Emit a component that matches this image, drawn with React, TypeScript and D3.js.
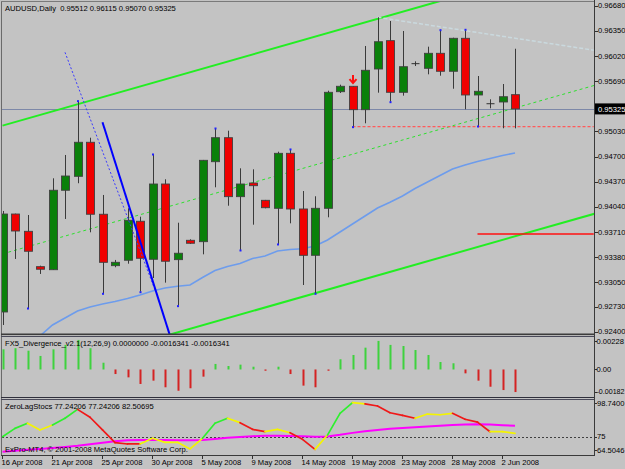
import React, { useEffect, useRef } from "react";
import * as d3 from "d3";

const W = 625;
const H = 469;

// ---- Data ----
const dateLabels = ["16 Apr 2008", "21 Apr 2008", "25 Apr 2008", "30 Apr 2008", "5 May 2008", "9 May 2008", "14 May 2008", "19 May 2008", "23 May 2008", "28 May 2008", "2 Jun 2008"];
const dateBarIdx = [0, 4, 8, 12, 16, 20, 24, 28, 32, 36, 40];

const opens = [0.92659, 0.93945, 0.93718, 0.93254, 0.93214, 0.94257, 0.94440, 0.94887, 0.93942, 0.93267, 0.93338, 0.93850, 0.93351, 0.94339, 0.93346, 0.93600, 0.93582, 0.94632, 0.94947, 0.94173, 0.94352, 0.94125, 0.94020, 0.94742, 0.94011, 0.93403, 0.94020, 0.95551, 0.95622, 0.95315, 0.95849, 0.96221, 0.95543, 0.95919, 0.95858, 0.96055, 0.95819, 0.96252, 0.95508, 0.95393, 0.95416, 0.95512];
const highs = [0.93985, 0.93950, 0.93932, 0.93267, 0.94414, 0.94720, 0.95420, 0.94947, 0.94195, 0.93342, 0.94020, 0.93910, 0.94720, 0.94401, 0.93831, 0.93613, 0.94655, 0.95061, 0.95039, 0.94545, 0.94532, 0.94130, 0.94763, 0.94786, 0.94247, 0.94178, 0.95564, 0.95643, 0.95625, 0.96151, 0.96528, 0.96479, 0.96348, 0.95950, 0.96142, 0.96352, 0.96260, 0.96357, 0.95757, 0.95451, 0.95652, 0.96115];
const lows = [0.92488, 0.93355, 0.92711, 0.93158, 0.93210, 0.93880, 0.94349, 0.93705, 0.92904, 0.93246, 0.93293, 0.92925, 0.93105, 0.93044, 0.92742, 0.93552, 0.93416, 0.94296, 0.94054, 0.93473, 0.93805, 0.94020, 0.93552, 0.93823, 0.93013, 0.92904, 0.93902, 0.95534, 0.95092, 0.95136, 0.95538, 0.95420, 0.95499, 0.95888, 0.95779, 0.95761, 0.95590, 0.95320, 0.95101, 0.95333, 0.95071, 0.95070];
const closes = [0.93945, 0.93722, 0.93456, 0.93220, 0.94257, 0.94444, 0.94887, 0.93942, 0.93311, 0.93311, 0.93863, 0.93364, 0.94339, 0.93325, 0.93430, 0.93561, 0.94650, 0.94947, 0.94173, 0.94339, 0.94317, 0.94028, 0.94742, 0.94011, 0.93403, 0.94020, 0.95543, 0.95622, 0.95315, 0.95832, 0.96207, 0.95543, 0.95879, 0.95919, 0.96055, 0.95819, 0.96252, 0.95508, 0.95556, 0.95393, 0.95485, 0.95325];

const maValues = [null, null, null, 0.92344, 0.92488, 0.92580, 0.92672, 0.92725, 0.92764, 0.92797, 0.92836, 0.92882, 0.92935, 0.92974, 0.92996, 0.93013, 0.93112, 0.93204, 0.93256, 0.93296, 0.93361, 0.93394, 0.93460, 0.93479, 0.93490, 0.93525, 0.93604, 0.93709, 0.93814, 0.93919, 0.94024, 0.94099, 0.94182, 0.94280, 0.94366, 0.94451, 0.94536, 0.94589, 0.94635, 0.94674, 0.94713, 0.94746];

const priceTicks = [0.9668, 0.9635, 0.9602, 0.9569, 0.9503, 0.947, 0.9437, 0.9404, 0.9371, 0.9338, 0.9305, 0.9273, 0.924];
const priceTickLabels = ["0.96680", "0.96350", "0.96020", "0.95690", "0.95030", "0.94700", "0.94370", "0.94040", "0.93710", "0.93380", "0.93050", "0.92730", "0.92400"];
const bidPrice = 0.95325;

const fractalHighIdx = [6, 12, 17, 23, 35, 37];
const fractalLowIdx = [2, 8, 11, 14, 19, 22, 25, 28, 31, 38];

// channel (bar index, price)
const channelUpper = [[0, 0.95106], [48, 0.97348]];
const channelMid = [[0, 0.93422], [48, 0.95664]];
const channelLower = [[0, 0.91737], [48, 0.93979]];
const blueSolidLine = [[8, 0.95149], [14, 0.92036]];
const blueDottedLine = [[5, 0.96068], [12.2, 0.92948]];
const paleDottedLine = [[30, 0.96528], [47.3, 0.96096]];
const redDashedLevel = [[28, 0.95092], [47.3, 0.95092]];
const redSolidLevel = [[38, 0.93683], [47.3, 0.93683]];
const arrowBar = 28;

const divValues = [0.00146, 0.00154, 0.00136, 0.00098, 0.00146, 0.00178, 0.00214, 0.00154, 0.00049, -0.00033, -0.00057, -0.00105, -0.00081, -0.00129, -0.00154, -0.00136, -0.00052, 0.00040, 0.00025, 0.00035, 0.00020, -0.00009, 0.00020, -0.00033, -0.00117, -0.00129, -0.00009, 0.00074, 0.00105, 0.00158, 0.00207, 0.00178, 0.00170, 0.00141, 0.00105, 0.00054, 0.00045, -0.00028, -0.00081, -0.00125, -0.00149, -0.0016341];
const divTicks = [0.00228, 0, -0.00182];
const divTickLabels = ["0.00228", "0.00", "-0.00182"];

const stochMain = [74.98, 80.7, 84.2, 79.6, 83.0, 87.6, 93.7, 88.3, 79.6, 70.9, 70.0, 70.0, 73.9, 71.1, 71.1, 66.6, 73.9, 84.2, 87.6, 84.6, 80.0, 78.4, 80.0, 77.7, 73.2, 66.3, 76.1, 91.0, 98.3, 97.4, 96.0, 91.4, 89.6, 87.6, 90.5, 90.0, 91.0, 86.9, 85.0, 78.4, 78.4, 77.24];
const stochSignal = [64.7, 65.4, 66.0, 66.6, 67.3, 68.0, 68.8, 69.8, 70.8, 71.8, 72.5, 72.8, 72.8, 72.7, 72.6, 72.5, 72.7, 73.4, 74.2, 74.8, 75.3, 75.6, 75.6, 75.5, 75.3, 75.0, 75.2, 76.3, 77.6, 78.7, 79.6, 80.4, 81.0, 81.5, 82.0, 82.5, 83.0, 83.4, 83.5, 83.3, 82.9, 82.51];
const stochSegState = ["g", "g", "y", "y", "g", "g", "r", "r", "r", "r", "r", "y", "y", "y", "y", "y", "g", "g", "y", "r", "r", "y", "y", "r", "r", "y", "g", "g", "y", "r", "r", "r", "r", "y", "y", "y", "r", "r", "r", "y", "y"];
const stochTicks = [98.74, 75, 64.5046];
const stochTickLabels = ["98.7400", "75", "64.5046"];
const stochLevel = 75;

const mainTitle = "AUDUSD,Daily  0.95512 0.96115 0.95070 0.95325";
const divTitle = "FX5_Divergence_v2.1(12,26,9) 0.0000000 -0.0016341 -0.0016341";
const stochTitle = "ZeroLagStocs 77.24206 77.24206 82.50695";
const copyright = "ExPro-MT4, © 2001-2008 MetaQuotes Software Corp.";

// ---- Layout ----
const plotL = 2;
const plotR = 594;
const mainTop = 2;
const mainBot = 334;
const divTop = 336;
const divBot = 397;
const stoTop = 398;
const stoBot = 455;
const FONT = "'Liberation Sans', Arial, sans-serif";
const FS = 7.6;

export default function App() {
  const ref = useRef<SVGSVGElement>(null);

  useEffect(() => {
    const svg = d3.select(ref.current);
    svg.selectAll("*").remove();

    const x = d3.scaleLinear().domain([0, 41]).range([2.5, 515]);
    const y = d3.scaleLinear().domain([0.924, 0.9668]).range([331.7, 5.7]);
    const yDiv = d3.scaleLinear().domain([-0.00182, 0.00228]).range([394.6, 338]);
    const ySto = d3.scaleLinear().domain([64.5046, 98.74]).range([452, 402]);

    svg.append("rect").attr("width", W).attr("height", H).attr("fill", "#c3c3c3");

    const defs = svg.append("defs");
    defs.append("clipPath").attr("id", "clipMain").append("rect")
      .attr("x", plotL).attr("y", mainTop).attr("width", plotR - plotL).attr("height", mainBot - mainTop);
    defs.append("clipPath").attr("id", "clipDiv").append("rect")
      .attr("x", plotL).attr("y", divTop).attr("width", plotR - plotL).attr("height", divBot - divTop);
    defs.append("clipPath").attr("id", "clipSto").append("rect")
      .attr("x", plotL).attr("y", stoTop).attr("width", plotR - plotL).attr("height", stoBot - stoTop);

    // ---------- Main panel ----------
    const gm = svg.append("g").attr("clip-path", "url(#clipMain)");
    const seg = d3.line<number[]>().x((d) => x(d[0])).y((d) => y(d[1]));

    // bid line
    gm.append("line").attr("x1", plotL).attr("x2", plotR)
      .attr("y1", Math.round(y(bidPrice)) + 0.5).attr("y2", Math.round(y(bidPrice)) + 0.5)
      .attr("stroke", "#7d88a8").attr("stroke-width", 1);

    // channel
    gm.append("path").attr("d", seg(channelMid)).attr("fill", "none")
      .attr("stroke", "#2ee02e").attr("stroke-width", 1).attr("stroke-dasharray", "3,3");
    gm.append("path").attr("d", seg(channelUpper)).attr("fill", "none")
      .attr("stroke", "#22ee22").attr("stroke-width", 2);
    gm.append("path").attr("d", seg(channelLower)).attr("fill", "none")
      .attr("stroke", "#22ee22").attr("stroke-width", 2);

    // pale dotted line
    gm.append("path").attr("d", seg(paleDottedLine)).attr("fill", "none")
      .attr("stroke", "#cad9de").attr("stroke-width", 1.5).attr("stroke-dasharray", "4,2");

    // red levels
    gm.append("path").attr("d", seg(redDashedLevel)).attr("fill", "none")
      .attr("stroke", "#ff5a5a").attr("stroke-width", 1.4).attr("stroke-dasharray", "3,2");
    gm.append("path").attr("d", seg(redSolidLevel)).attr("fill", "none")
      .attr("stroke", "#ff1010").attr("stroke-width", 1.5);

    // MA line
    const maLine = d3.line<number | null>()
      .defined((d) => d !== null)
      .x((_, i) => x(i)).y((d) => y(d as number))
      .curve(d3.curveLinear);
    gm.append("path").attr("d", maLine(maValues)).attr("fill", "none")
      .attr("stroke", "#6d9cec").attr("stroke-width", 1.6);

    // candles
    const bw = 8;
    const candles = gm.append("g");
    opens.forEach((o, i) => {
      const c = closes[i];
      const cx = Math.round(x(i)) + 0.5;
      candles.append("line").attr("x1", cx).attr("x2", cx)
        .attr("y1", y(highs[i])).attr("y2", y(lows[i]))
        .attr("stroke", "#3a3a3a").attr("stroke-width", 1);
      if (Math.abs(o - c) < 0.00002) {
        candles.append("line").attr("x1", cx - 4).attr("x2", cx + 4)
          .attr("y1", y(o)).attr("y2", y(o)).attr("stroke", "#303030").attr("stroke-width", 1);
      } else {
        const top = y(Math.max(o, c));
        const bot = y(Math.min(o, c));
        candles.append("rect")
          .attr("x", cx - bw / 2).attr("y", top)
          .attr("width", bw).attr("height", Math.max(1, bot - top))
          .attr("fill", c > o ? "#0a800a" : "#f00000")
          .attr("stroke", "#404040").attr("stroke-width", 0.9);
      }
    });

    // fractal dots
    fractalHighIdx.forEach((i) => {
      gm.append("rect").attr("x", x(i) - 0.5).attr("y", y(highs[i]) - 1.5).attr("width", 2).attr("height", 2).attr("fill", "#2020ff");
    });
    fractalLowIdx.forEach((i) => {
      gm.append("rect").attr("x", x(i) - 0.5).attr("y", y(lows[i]) - 0.5).attr("width", 2).attr("height", 2).attr("fill", "#2020ff");
    });

    // blue trend lines
    gm.append("path").attr("d", seg(blueDottedLine)).attr("fill", "none")
      .attr("stroke", "#3a3aff").attr("stroke-width", 1).attr("stroke-dasharray", "2,2");
    gm.append("path").attr("d", seg(blueSolidLine)).attr("fill", "none")
      .attr("stroke", "#0000ff").attr("stroke-width", 2);

    // red arrow
    const ax = x(arrowBar) + 0.5;
    const ay = y(highs[arrowBar]) - 2;
    gm.append("path")
      .attr("d", `M${ax},${ay - 9} L${ax},${ay - 1} M${ax - 3.5},${ay - 5} L${ax},${ay - 1} L${ax + 3.5},${ay - 5}`)
      .attr("fill", "none").attr("stroke", "#ff1010").attr("stroke-width", 2);

    // ---------- Divergence panel ----------
    const gd = svg.append("g").attr("clip-path", "url(#clipDiv)");
    divValues.forEach((v, i) => {
      const y0 = yDiv(0);
      const y1 = yDiv(v);
      gd.append("rect").attr("x", Math.round(x(i)) - 0.5).attr("width", 2)
        .attr("y", Math.min(y0, y1)).attr("height", Math.max(1, Math.abs(y1 - y0)))
        .attr("fill", v >= 0 ? "#3ed23e" : "#d42222");
    });

    // ---------- Stoch panel ----------
    const gs = svg.append("g").attr("clip-path", "url(#clipSto)");
    gs.append("line").attr("x1", plotL).attr("x2", plotR)
      .attr("y1", Math.round(ySto(stochLevel)) + 0.5).attr("y2", Math.round(ySto(stochLevel)) + 0.5)
      .attr("stroke", "#404040").attr("stroke-width", 1).attr("stroke-dasharray", "2,2");
    const sigLine = d3.line<number>().x((_, i) => x(i)).y((d) => ySto(d));
    gs.append("path").attr("d", sigLine(stochSignal)).attr("fill", "none")
      .attr("stroke", "#ff00ff").attr("stroke-width", 2);
    const stateColor: Record<string, string> = { g: "#2ef02e", y: "#f4f400", r: "#f01818" };
    stochSegState.forEach((s, i) => {
      gs.append("line")
        .attr("x1", x(i)).attr("y1", ySto(stochMain[i]))
        .attr("x2", x(i + 1)).attr("y2", ySto(stochMain[i + 1]))
        .attr("stroke", stateColor[s]).attr("stroke-width", 1.7).attr("stroke-linecap", "round");
    });

    // ---------- Frames ----------
    const frame = svg.append("g").attr("fill", "none");
    frame.append("line").attr("x1", 1.5).attr("x2", 1.5).attr("y1", 1).attr("y2", stoBot).attr("stroke", "#6a6a6a");
    frame.append("line").attr("x1", 1).attr("x2", plotR).attr("y1", 1.5).attr("y2", 1.5).attr("stroke", "#7a7a7a");
    frame.append("rect").attr("x", 1).attr("y", 333.5).attr("width", plotR - 1).attr("height", 1.6).attr("fill", "#3c3c3c");
    frame.append("line").attr("x1", 1).attr("x2", plotR).attr("y1", 336.5).attr("y2", 336.5).attr("stroke", "#4a4a5a");
    frame.append("line").attr("x1", 1).attr("x2", plotR).attr("y1", 397.5).attr("y2", 397.5).attr("stroke", "#30303c");
    frame.append("line").attr("x1", 1).attr("x2", plotR).attr("y1", 399.5).attr("y2", 399.5).attr("stroke", "#4a4a5a");
    frame.append("line").attr("x1", 1).attr("x2", plotR).attr("y1", stoBot + 0.5).attr("y2", stoBot + 0.5).attr("stroke", "#3a3a3a");
    frame.append("line").attr("x1", plotR + 0.5).attr("x2", plotR + 0.5).attr("y1", 0).attr("y2", stoBot + 1).attr("stroke", "#3a3a3a");

    // ---------- Axis labels ----------
    const txt = svg.append("g").attr("font-family", FONT).attr("font-size", FS).attr("fill", "#000");

    priceTicks.forEach((p, i) => {
      const ty = y(p);
      txt.append("line").attr("x1", plotR + 1).attr("x2", plotR + 4).attr("y1", Math.round(ty) + 0.5).attr("y2", Math.round(ty) + 0.5).attr("stroke", "#303030");
      txt.append("text").attr("x", plotR + 4).attr("y", ty).attr("dy", "0.35em").text(priceTickLabels[i]);
    });
    // bid label
    const by = y(bidPrice);
    txt.append("rect").attr("x", plotR + 1).attr("y", by - 5.5).attr("width", W - plotR - 1).attr("height", 11).attr("fill", "#000");
    txt.append("text").attr("x", plotR + 4).attr("y", by).attr("dy", "0.35em").attr("fill", "#fff").text(bidPrice.toFixed(5));

    const clampY = (v: number, top: number, bot: number) => Math.max(top + 5, Math.min(bot - 5, v));
    divTicks.forEach((v, i) => {
      const ty = clampY(yDiv(v), divTop, divBot);
      txt.append("line").attr("x1", plotR + 1).attr("x2", plotR + 3).attr("y1", Math.round(ty) + 0.5).attr("y2", Math.round(ty) + 0.5).attr("stroke", "#303030");
      txt.append("text").attr("x", plotR + 2.5).attr("y", ty).attr("dy", "0.35em")
        .attr("font-size", divTickLabels[i].length > 7 ? 7.1 : FS).text(divTickLabels[i]);
    });
    stochTicks.forEach((v, i) => {
      const ty = clampY(ySto(v), stoTop, stoBot);
      txt.append("line").attr("x1", plotR + 1).attr("x2", plotR + 3).attr("y1", Math.round(ty) + 0.5).attr("y2", Math.round(ty) + 0.5).attr("stroke", "#303030");
      txt.append("text").attr("x", plotR + 3).attr("y", ty).attr("dy", "0.35em").text(stochTickLabels[i]);
    });

    dateBarIdx.forEach((bi, i) => {
      const dx = Math.round(x(bi)) - 0.5;
      txt.append("line").attr("x1", dx).attr("x2", dx).attr("y1", stoBot + 1).attr("y2", stoBot + 4).attr("stroke", "#303030");
      txt.append("text").attr("x", dx - 1).attr("y", 465).text(dateLabels[i]);
    });

    // titles
    txt.append("text").attr("x", 5).attr("y", 11).style("white-space", "pre").text(mainTitle);
    txt.append("text").attr("x", 5).attr("y", 346).style("white-space", "pre").text(divTitle);
    txt.append("text").attr("x", 5).attr("y", 409).style("white-space", "pre").text(stochTitle);
    txt.append("text").attr("x", 5).attr("y", 452).style("white-space", "pre").text(copyright);
  }, []);

  return (
    <svg
      ref={ref}
      width={W}
      height={H}
      style={{ position: "absolute", left: 0, top: 0, display: "block" }}
    />
  );
}
